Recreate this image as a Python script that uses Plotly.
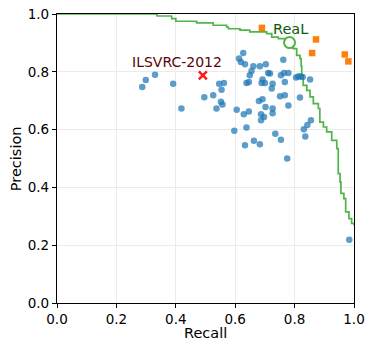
"""Precision / recall scatter: ImageNet models vs. ReaL labels."""

import plotly.graph_objects as go

# Blue points: individual models (recall, precision)
MODEL_RECALL = [
    0.287, 0.299, 0.330, 0.391, 0.419, 0.496, 0.526, 0.546, 0.562, 0.554,
    0.537, 0.552, 0.557, 0.627, 0.613, 0.619, 0.633, 0.661, 0.683, 0.703,
    0.655, 0.649, 0.638, 0.646, 0.692, 0.689, 0.700, 0.711, 0.717, 0.723,
    0.726, 0.762, 0.754, 0.764, 0.779, 0.767, 0.805, 0.812, 0.820, 0.827,
    0.852, 0.605, 0.629, 0.646, 0.680, 0.692, 0.702, 0.687, 0.697, 0.687,
    0.726, 0.726, 0.751, 0.767, 0.779, 0.818, 0.597, 0.638, 0.633, 0.663,
    0.683, 0.735, 0.754, 0.775, 0.836, 0.831, 0.843, 0.855, 0.984,
]
MODEL_PRECISION = [
    0.747, 0.772, 0.790, 0.759, 0.673, 0.712, 0.719, 0.759, 0.761, 0.738,
    0.673, 0.696, 0.687, 0.865, 0.846, 0.834, 0.826, 0.819, 0.819, 0.826,
    0.803, 0.788, 0.761, 0.765, 0.773, 0.761, 0.761, 0.796, 0.794, 0.742,
    0.759, 0.842, 0.788, 0.796, 0.796, 0.765, 0.780, 0.784, 0.784, 0.782,
    0.773, 0.669, 0.653, 0.663, 0.699, 0.705, 0.678, 0.653, 0.644, 0.632,
    0.673, 0.657, 0.715, 0.719, 0.683, 0.711, 0.596, 0.607, 0.546, 0.561,
    0.549, 0.586, 0.565, 0.500, 0.576, 0.601, 0.616, 0.632, 0.219,
]

# Orange squares
HUMAN_RECALL = [0.690, 0.872, 0.859, 0.969, 0.981]
HUMAN_PRECISION = [0.952, 0.912, 0.865, 0.860, 0.836]

# Green step curve
CURVE_RECALL = [
    0.0, 0.337, 0.386, 0.400, 0.470, 0.526, 0.571, 0.577, 0.616, 0.649,
    0.706, 0.723, 0.745, 0.770, 0.783, 0.790, 0.795, 0.807, 0.818, 0.822,
    0.824, 0.829, 0.841, 0.852, 0.863, 0.880, 0.885, 0.897, 0.908, 0.925,
    0.942, 0.947, 0.947, 0.953, 0.956, 0.966, 0.972, 0.983, 0.992, 1.0,
]
CURVE_PRECISION = [
    1.0, 0.993, 0.984, 0.975, 0.969, 0.961, 0.955, 0.949, 0.944, 0.938,
    0.932, 0.920, 0.915, 0.908, 0.901, 0.888, 0.880, 0.857, 0.846, 0.820,
    0.788, 0.753, 0.736, 0.713, 0.690, 0.673, 0.626, 0.609, 0.592, 0.563,
    0.534, 0.494, 0.448, 0.419, 0.379, 0.361, 0.315, 0.292, 0.275, 0.269,
]

REAL_POINT = (0.783, 0.901)
ILSVRC_POINT = (0.491, 0.788)

TICKS = [0.0, 0.2, 0.4, 0.6, 0.8, 1.0]
TICK_TEXT = ["0.0", "0.2", "0.4", "0.6", "0.8", "1.0"]

FONT = "DejaVu Sans"

fig = go.Figure()

fig.add_trace(go.Scatter(
    x=CURVE_RECALL, y=CURVE_PRECISION, mode="lines",
    line=dict(color="#4fb548", width=1.7, shape="hv"),
    showlegend=False,
))

fig.add_trace(go.Scatter(
    x=MODEL_RECALL, y=MODEL_PRECISION, mode="markers",
    marker=dict(color="rgba(31,119,180,0.72)", size=6.5, line=dict(width=0)),
    showlegend=False,
))

fig.add_trace(go.Scatter(
    x=HUMAN_RECALL, y=HUMAN_PRECISION, mode="markers",
    marker=dict(color="#ff7f0e", symbol="square", size=6.5, line=dict(width=0)),
    showlegend=False, cliponaxis=False,
))

fig.add_trace(go.Scatter(
    x=[REAL_POINT[0]], y=[REAL_POINT[1]], mode="markers",
    marker=dict(color="white", symbol="circle", size=11,
                line=dict(color="#4fb548", width=2)),
    showlegend=False,
))

fig.add_trace(go.Scatter(
    x=[ILSVRC_POINT[0]], y=[ILSVRC_POINT[1]], mode="markers",
    marker=dict(symbol="x-thin", size=8, line=dict(color="#ff1a1a", width=2.5)),
    showlegend=False,
))

fig.add_annotation(x=0.403, y=0.833, text="ILSVRC-2012", showarrow=False,
                   font=dict(family=FONT, size=14, color="#5a0505"))
fig.add_annotation(x=0.785, y=0.948, text="ReaL", showarrow=False,
                   font=dict(family=FONT, size=14.5, color="#0a5c0a"))

# axis titles placed as paper annotations so the plot area stays fixed
fig.add_annotation(x=0.5, y=-0.105, xref="paper", yref="paper", text="Recall",
                   showarrow=False, yanchor="middle",
                   font=dict(family=FONT, size=14.5, color="black"))
fig.add_annotation(x=-0.139, y=0.5, xref="paper", yref="paper", text="Precision",
                   showarrow=False, textangle=-90, xanchor="center",
                   font=dict(family=FONT, size=14.5, color="black"))

axis_common = dict(
    range=[0, 1], tickvals=TICKS, ticktext=TICK_TEXT, automargin=False,
    showline=True, linecolor="black", linewidth=1.3, mirror=True,
    ticks="outside", ticklen=4, tickwidth=1, tickcolor="black",
    showgrid=True, gridcolor="#ebebeb", gridwidth=1, zeroline=False,
    ticklabeloverflow="allow",
    tickfont=dict(family=FONT, size=13.5, color="black"),
)

fig.update_layout(
    width=374, height=351,
    margin=dict(l=57, r=20, t=14, b=48),
    paper_bgcolor="white", plot_bgcolor="white",
    font=dict(family=FONT, color="black"),
    xaxis=axis_common,
    yaxis=axis_common,
)

# drop the default 8px page margin so the figure fills the window exactly
fig.write_html(
    "out.html",
    config={"displayModeBar": False},
    post_script="document.body.style.margin = '0';",
)
